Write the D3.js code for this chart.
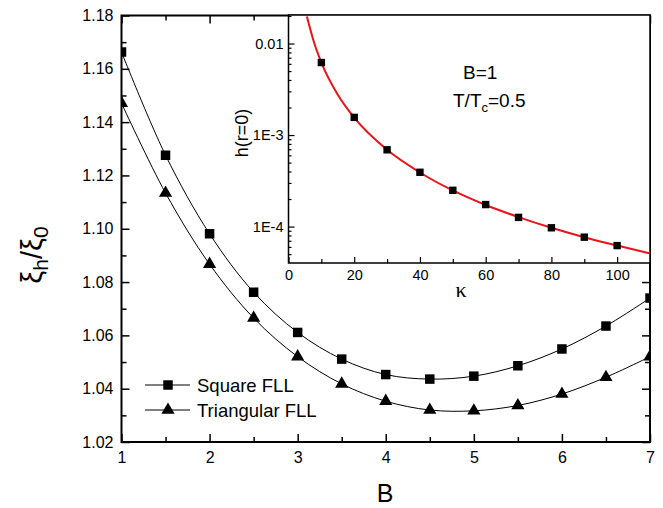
<!DOCTYPE html>
<html lang="en">
<head>
<meta charset="UTF-8">
<title>xi_h / xi_0 vs B</title>
<script src="https://d3js.org/d3.v7.min.js"></script>
<style>
  body { margin: 0; background: #fff; }
  text { font-family: Arial, "Liberation Sans", sans-serif; fill: #000; }
</style>
</head>
<body>
<div id="chart"></div>
<script>
// main panel data
const bValues = [1, 1.5, 2, 2.5, 3, 3.5, 4, 4.5, 5, 5.5, 6, 6.5, 7]
const squareFLL = [1.1663, 1.1276, 1.0981, 1.0762, 1.0611, 1.0511, 1.0453, 1.0436, 1.0447, 1.0486, 1.0549, 1.0635, 1.0740]
const triangularFLL = [1.1471, 1.1134, 1.0867, 1.0665, 1.0520, 1.0418, 1.0353, 1.0320, 1.0317, 1.0337, 1.0380, 1.0443, 1.0520]
const mainXTicks = [1, 2, 3, 4, 5, 6, 7]
const mainYTicks = [1.02, 1.04, 1.06, 1.08, 1.10, 1.12, 1.14, 1.16, 1.18]

// inset data
const kappaValues = [10, 20, 30, 40, 50, 60, 70, 80, 90, 100]
const hValues = [6.2e-3, 1.56e-3, 6.9e-4, 3.92e-4, 2.49e-4, 1.74e-4, 1.26e-4, 9.7e-5, 7.66e-5, 6.2e-5]
const fitKappa = [5.6, 8, 10, 15, 20, 30, 40, 50, 60, 70, 80, 90, 100, 110]
const fitH = [0.0198, 0.0097, 0.0062, 0.00276, 0.00155, 6.9e-4, 3.9e-4, 2.48e-4, 1.72e-4, 1.27e-4, 9.7e-5, 7.65e-5, 6.2e-5, 5.1e-5]
const insetXTicks = [0, 20, 40, 60, 80, 100]
const insetYTicks = [1e-4, 1e-3, 1e-2]
const insetYLabels = ["1E-4", "1E-3", "0.01"]

const width = 663, height = 508
const svg = d3.select("#chart").append("svg")
  .attr("width", width).attr("height", height)

// ---------- main plot ----------
const m = {left: 121.5, right: 650, top: 15.5, bottom: 442}
const x = d3.scaleLinear().domain([1, 7]).range([m.left, m.right])
const y = d3.scaleLinear().domain([1.02, 1.18]).range([m.bottom, m.top])

svg.append("clipPath").attr("id", "mainclip")
  .append("rect").attr("x", m.left).attr("y", m.top)
  .attr("width", m.right - m.left).attr("height", m.bottom - m.top)

const minorX = d3.range(1.5, 7, 1)
const minorY = d3.range(1.03, 1.18, 0.02)

// bottom / top axes (ticks inward)
svg.append("g").attr("transform", `translate(0,${m.bottom})`)
  .call(d3.axisBottom(x).tickValues(mainXTicks).tickSizeInner(-8).tickSizeOuter(0).tickFormat(d3.format("d")))
svg.append("g").attr("transform", `translate(0,${m.bottom})`)
  .call(d3.axisBottom(x).tickValues(minorX).tickSizeInner(-5).tickSizeOuter(0).tickFormat(""))
svg.append("g").attr("transform", `translate(0,${m.top})`)
  .call(d3.axisTop(x).tickValues(mainXTicks).tickSizeInner(-8).tickSizeOuter(0).tickFormat(""))
svg.append("g").attr("transform", `translate(0,${m.top})`)
  .call(d3.axisTop(x).tickValues(minorX).tickSizeInner(-5).tickSizeOuter(0).tickFormat(""))
// left / right
svg.append("g").attr("transform", `translate(${m.left},0)`)
  .call(d3.axisLeft(y).tickValues(mainYTicks).tickSizeInner(-8).tickSizeOuter(0).tickFormat(d3.format(".2f")))
svg.append("g").attr("transform", `translate(${m.left},0)`)
  .call(d3.axisLeft(y).tickValues(minorY).tickSizeInner(-5).tickSizeOuter(0).tickFormat(""))
svg.append("g").attr("transform", `translate(${m.right},0)`)
  .call(d3.axisRight(y).tickValues(mainYTicks).tickSizeInner(-8).tickSizeOuter(0).tickFormat(""))
svg.append("g").attr("transform", `translate(${m.right},0)`)
  .call(d3.axisRight(y).tickValues(minorY).tickSizeInner(-5).tickSizeOuter(0).tickFormat(""))

svg.selectAll(".domain").remove()
svg.selectAll(".tick line").attr("stroke", "#000").attr("stroke-width", 1.5)
svg.selectAll(".tick text").attr("font-size", 16).style("font-family", "Arial, 'Liberation Sans', sans-serif")
svg.selectAll("g.tick text").each(function () {
  const t = d3.select(this)
  if (t.attr("x") && +t.attr("x") < 0) t.attr("x", -8)
  if (t.attr("y") && +t.attr("y") > 0) t.attr("y", 10)
})

svg.append("rect").attr("x", m.left).attr("y", m.top)
  .attr("width", m.right - m.left).attr("height", m.bottom - m.top)
  .attr("fill", "none").attr("stroke", "#000").attr("stroke-width", 2)

const mainLine = d3.line().x(d => x(d[0])).y(d => y(d[1])).curve(d3.curveCatmullRom)
const dataG = svg.append("g").attr("clip-path", "url(#mainclip)")
const series = [
  {name: "Square FLL", vals: squareFLL, sym: d3.symbolSquare, size: 90},
  {name: "Triangular FLL", vals: triangularFLL, sym: d3.symbolTriangle, size: 75}
]
series.forEach(s => {
  const pts = bValues.map((b, i) => [b, s.vals[i]])
  dataG.append("path").attr("d", mainLine(pts))
    .attr("fill", "none").attr("stroke", "#000").attr("stroke-width", 1)
  dataG.selectAll(null).data(pts).enter().append("path")
    .attr("transform", d => `translate(${x(d[0])},${y(d[1])})`)
    .attr("d", d3.symbol().type(s.sym).size(s.size))
    .attr("fill", "#000")
})

// legend
series.forEach((s, i) => {
  const ly = 385 + i * 25
  svg.append("line").attr("x1", 145).attr("x2", 190).attr("y1", ly).attr("y2", ly)
    .attr("stroke", "#000").attr("stroke-width", 1)
  svg.append("path").attr("transform", `translate(168,${ly})`)
    .attr("d", d3.symbol().type(s.sym).size(s.size)).attr("fill", "#000")
  svg.append("text").attr("x", 197).attr("y", ly + 6.5).attr("font-size", 18.5).text(s.name)
})

// axis titles
svg.append("text").attr("x", 385).attr("y", 502).attr("text-anchor", "middle")
  .attr("font-size", 25).text("B")
const yt = svg.append("text").attr("transform", "translate(42,255) rotate(-90)")
  .attr("text-anchor", "middle").attr("font-size", 29)
yt.append("tspan").text("ξ")
yt.append("tspan").attr("font-size", 21).attr("dy", 6).text("h")
yt.append("tspan").attr("dy", -6).text("/ξ")
yt.append("tspan").attr("font-size", 21).attr("dy", 6).text("0")

// ---------- inset ----------
const n = {left: 288.5, right: 650, top: 15, bottom: 263}
const ix = d3.scaleLinear().domain([0, 110]).range([n.left, n.right])
const iy = d3.scaleLog().domain([4.0e-5, 0.0205]).range([n.bottom, n.top])

svg.append("rect").attr("x", n.left).attr("y", n.top)
  .attr("width", n.right - n.left).attr("height", n.bottom - n.top).attr("fill", "#fff")

svg.append("clipPath").attr("id", "insetclip")
  .append("rect").attr("x", n.left).attr("y", n.top)
  .attr("width", n.right - n.left).attr("height", n.bottom - n.top)

const inset = svg.append("g").attr("class", "inset")
const minorK = d3.range(10, 110, 20)
const minorH = []
;[1e-5, 1e-4, 1e-3, 1e-2].forEach(dec => d3.range(2, 10).forEach(k => {
  const v = dec * k
  if (v > 4.0e-5 && v < 0.0205) minorH.push(v)
}))

inset.append("g").attr("transform", `translate(0,${n.bottom})`)
  .call(d3.axisBottom(ix).tickValues(insetXTicks).tickSizeInner(-6).tickSizeOuter(0).tickFormat(d3.format("d")))
inset.append("g").attr("transform", `translate(0,${n.bottom})`)
  .call(d3.axisBottom(ix).tickValues(minorK).tickSizeInner(-4).tickSizeOuter(0).tickFormat(""))
inset.append("g").attr("transform", `translate(${n.left},0)`)
  .call(d3.axisLeft(iy).tickValues(insetYTicks).tickSizeInner(-6).tickSizeOuter(0)
    .tickFormat((d, i) => insetYLabels[i]))
inset.append("g").attr("transform", `translate(${n.left},0)`)
  .call(d3.axisLeft(iy).tickValues(minorH).tickSizeInner(-3).tickSizeOuter(0).tickFormat(""))

inset.selectAll(".domain").remove()
inset.selectAll(".tick line").attr("stroke", "#000").attr("stroke-width", 1.2)
inset.selectAll(".tick text").attr("font-size", 14.5).style("font-family", "Arial, 'Liberation Sans', sans-serif")
inset.selectAll("g.tick text").each(function () {
  const t = d3.select(this)
  if (t.attr("x") && +t.attr("x") < 0) t.attr("x", -5)
  if (t.attr("y") && +t.attr("y") > 0) t.attr("y", 7)
})

inset.append("rect").attr("x", n.left).attr("y", n.top)
  .attr("width", n.right - n.left).attr("height", n.bottom - n.top)
  .attr("fill", "none").attr("stroke", "#000").attr("stroke-width", 1.5)

const fitLine = d3.line().x(d => ix(d[0])).y(d => iy(d[1])).curve(d3.curveMonotoneX)
inset.append("path").attr("clip-path", "url(#insetclip)")
  .attr("d", fitLine(fitKappa.map((k, i) => [k, fitH[i]])))
  .attr("fill", "none").attr("stroke", "#e8141c").attr("stroke-width", 2)

inset.selectAll(null).data(kappaValues.map((k, i) => [k, hValues[i]])).enter().append("rect")
  .attr("x", d => ix(d[0]) - 3.7).attr("y", d => iy(d[1]) - 3.7)
  .attr("width", 7.4).attr("height", 7.4).attr("fill", "#000")

inset.append("text").attr("x", 461).attr("y", 297).attr("text-anchor", "middle")
  .style("font-family", "'Liberation Serif', 'DejaVu Serif', serif")
  .attr("font-size", 22).text("κ")
inset.append("text").attr("transform", "translate(248,133) rotate(-90)")
  .attr("text-anchor", "middle").attr("font-size", 18).text("h(r=0)")
inset.append("text").attr("x", 463).attr("y", 79).attr("font-size", 19).text("B=1")
const tt = inset.append("text").attr("x", 453).attr("y", 107).attr("font-size", 19)
tt.append("tspan").text("T/T")
tt.append("tspan").attr("font-size", 13).attr("dy", 5).text("c")
tt.append("tspan").attr("dy", -5).text("=0.5")
</script>
</body>
</html>
